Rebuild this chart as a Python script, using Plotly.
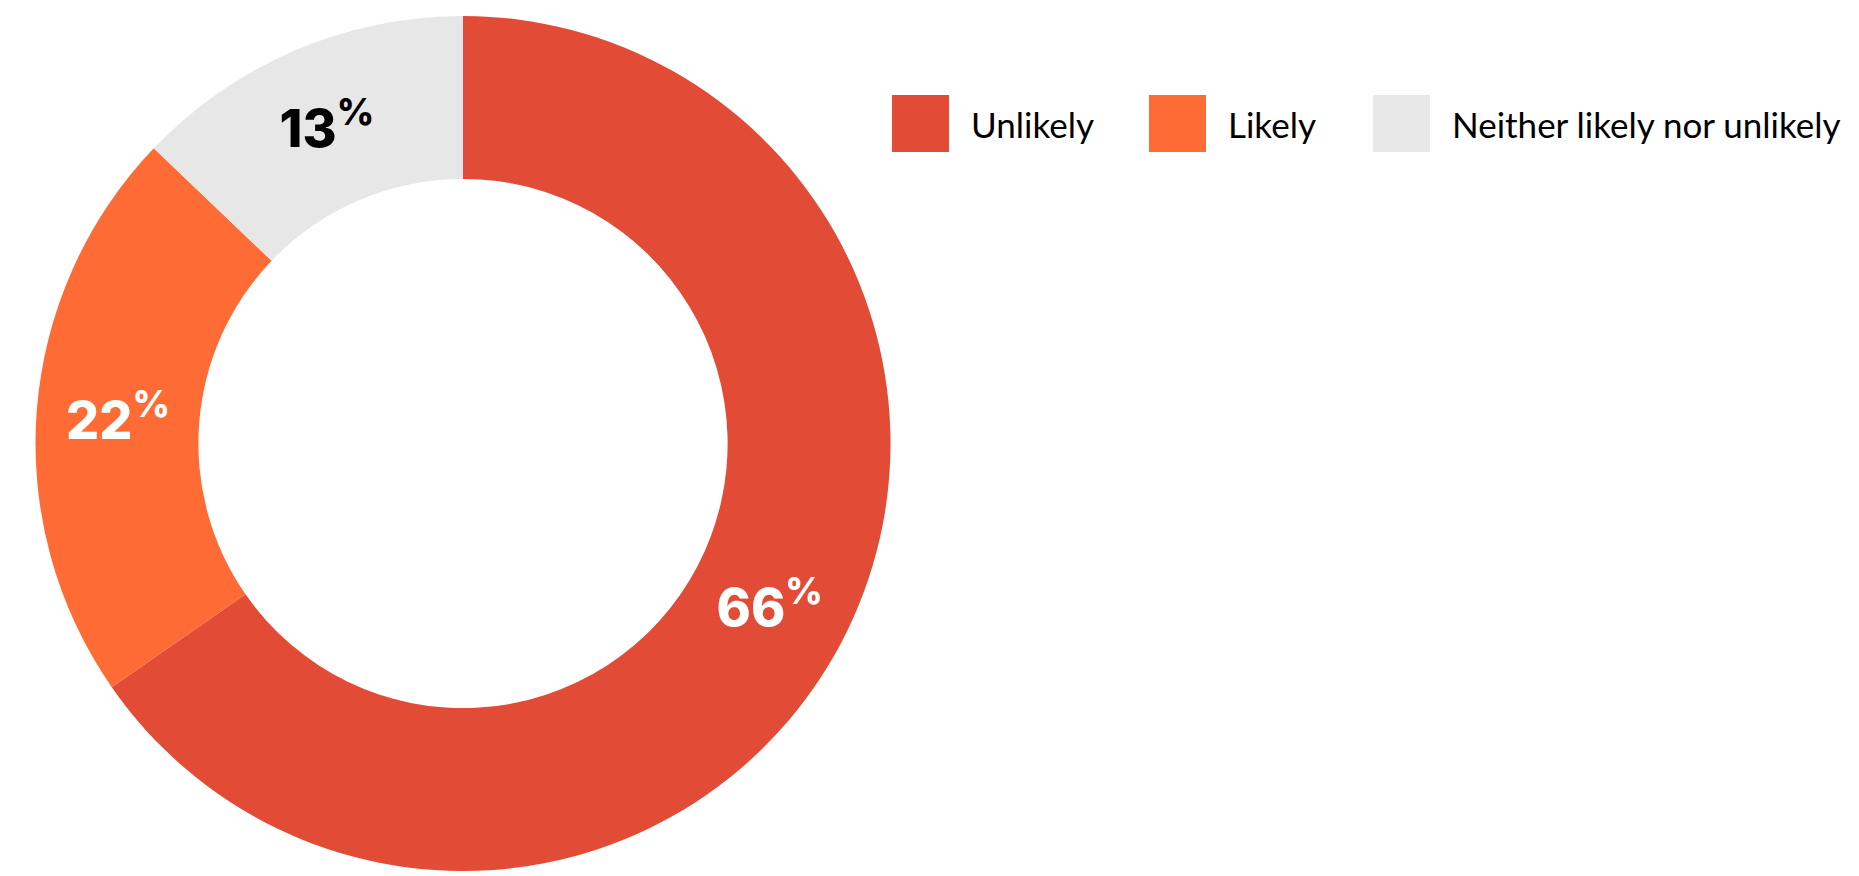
import plotly.graph_objects as go

# Survey answer shares (percent)
categories = ["Unlikely", "Likely", "Neither likely nor unlikely"]
values = [66, 22, 13]
colors = ["#E24B36", "#FF6B35", "#E7E7E7"]
label_colors = ["#FFFFFF", "#FFFFFF", "#000000"]

W, H = 1859, 876

fig = go.Figure(
    go.Pie(
        labels=categories,
        values=values,
        sort=False,
        direction="clockwise",
        rotation=0,
        hole=0.619,
        marker=dict(colors=colors, line=dict(width=0)),
        texttemplate="%{value}<sup>%</sup>",
        textposition="inside",
        insidetextorientation="horizontal",
        textfont=dict(family="Inter", size=52, weight=800, color=label_colors),
        showlegend=False,
        hoverinfo="label+value",
        domain=dict(x=[35.5 / W, 890.5 / W], y=[1 - 871 / H, 1 - 16 / H]),
    )
)

# Legend drawn as colored squares with labels to the right
legend_x = [892, 1149, 1373]
sq_top, sq_size = 95, 57
shapes, annotations = [], []
for cat, col, x0 in zip(categories, colors, legend_x):
    shapes.append(dict(
        type="rect", xref="paper", yref="paper",
        x0=x0 / W, x1=(x0 + sq_size) / W,
        y0=1 - (sq_top + sq_size) / H, y1=1 - sq_top / H,
        fillcolor=col, line=dict(width=0),
    ))
    annotations.append(dict(
        text=cat, xref="paper", yref="paper",
        x=(x0 + sq_size + 20) / W, y=1 - (sq_top + sq_size / 2 + 1) / H,
        xanchor="left", yanchor="middle", showarrow=False,
        font=dict(family="Lato", size=35, color="#000000"),
    ))

fig.update_layout(
    width=W, height=H,
    margin=dict(l=0, r=0, t=0, b=0),
    paper_bgcolor="#FFFFFF",
    plot_bgcolor="#FFFFFF",
    shapes=shapes,
    annotations=annotations,
)

fig.write_html("out.html")
